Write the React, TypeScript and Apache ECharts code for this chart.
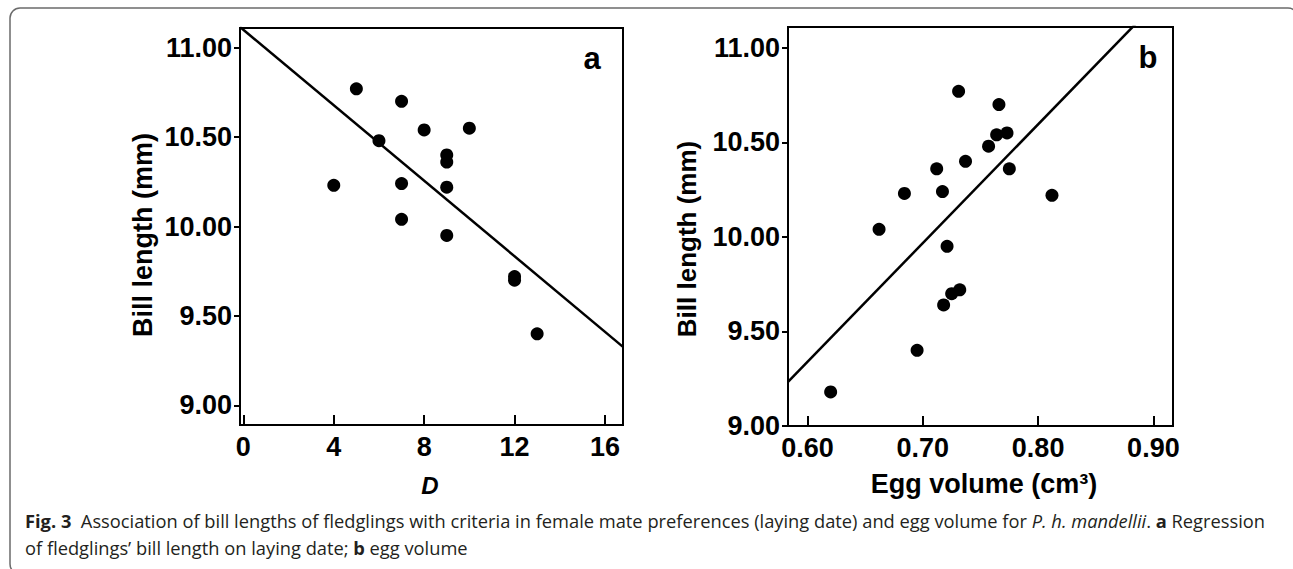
import React, { useEffect, useRef } from "react";
import * as echarts from "echarts";

// Panel a: laying date (D) vs bill length
const layingDate = [4, 5, 6, 7, 7, 7, 8, 9, 9, 9, 9, 10, 12, 12, 13];
const billLengthA = [10.23, 10.77, 10.48, 10.7, 10.24, 10.04, 10.54, 10.4, 10.36, 10.22, 9.95, 10.55, 9.72, 9.7, 9.4];

// Panel b: egg volume vs bill length
const eggVolume = [0.62, 0.662, 0.684, 0.695, 0.712, 0.717, 0.718, 0.721, 0.725, 0.732, 0.731, 0.737, 0.757, 0.764, 0.766, 0.773, 0.775, 0.812];
const billLengthB = [9.18, 10.04, 10.23, 9.4, 10.36, 10.24, 9.64, 9.95, 9.7, 9.72, 10.77, 10.4, 10.48, 10.54, 10.7, 10.55, 10.36, 10.22];

// Regression line end points
const regA_x = [-0.15, 16.8];
const regA_y = [11.116, 9.327];
const regB_x = [0.583, 0.917];
const regB_y = [9.233, 11.33];

// Tick labels
const yTicks = [9.0, 9.5, 10.0, 10.5, 11.0];
const xTicksA = [0, 4, 8, 12, 16];
const xTicksB = [0.6, 0.7, 0.8, 0.9];

const FONT = '"Liberation Sans", Arial, sans-serif';
const CAP_FONT = '"Open Sans", "Noto Sans", sans-serif';
const CAP_SIZE = 18.3;

export default function App() {
  const ref = useRef<HTMLDivElement>(null);

  useEffect(() => {
    if (!ref.current) return;
    const chart = echarts.init(ref.current, undefined, { renderer: "svg" });

    const axisLabelBase = {
      fontSize: 27,
      fontWeight: "bold" as const,
      fontFamily: FONT,
      color: "#000",
      margin: 8,
    };

    const xAxisCommon = (gridIndex: number, min: number, max: number, ticks: number[], digits: number) => ({
      type: "value" as const,
      gridIndex,
      min,
      max,
      axisLine: { show: true, onZero: false, lineStyle: { color: "#000", width: 2 } },
      axisTick: { show: true, inside: true, length: 10, lineStyle: { color: "#000", width: 2 }, customValues: ticks },
      axisLabel: { ...axisLabelBase, customValues: ticks, formatter: (v: number) => v.toFixed(digits) },
      splitLine: { show: false },
    });

    const yAxisCommon = (gridIndex: number, min: number, max: number) => ({
      type: "value" as const,
      gridIndex,
      min,
      max,
      axisLine: { show: true, onZero: false, lineStyle: { color: "#000", width: 2 } },
      axisTick: { show: true, inside: false, length: 6, lineStyle: { color: "#000", width: 2 }, customValues: yTicks },
      axisLabel: { ...axisLabelBase, customValues: yTicks, formatter: (v: number) => v.toFixed(2) },
      splitLine: { show: false },
    });

    const pairs = (xs: number[], ys: number[]) => xs.map((x, i) => [x, ys[i]]);

    const captionRich = {
      b: { fontFamily: CAP_FONT, fontSize: CAP_SIZE, fontWeight: "bold", fill: "#231f20" },
      i: { fontFamily: CAP_FONT, fontSize: CAP_SIZE, fontStyle: "italic", fill: "#231f20" },
      n: { fontFamily: CAP_FONT, fontSize: CAP_SIZE, fill: "#231f20" },
    };

    chart.setOption({
      animation: false,
      backgroundColor: "#fff",
      grid: [
        { left: 240, top: 28, width: 383, height: 397, show: true, borderColor: "#000", borderWidth: 2, backgroundColor: "transparent" },
        { left: 788, top: 27, width: 385, height: 399, show: true, borderColor: "#000", borderWidth: 2, backgroundColor: "transparent" },
      ],
      xAxis: [xAxisCommon(0, -0.15, 16.8, xTicksA, 0), xAxisCommon(1, 0.583, 0.917, xTicksB, 2)],
      yAxis: [yAxisCommon(0, 8.89, 11.11), yAxisCommon(1, 9.0, 11.11)],
      series: [
        {
          type: "scatter",
          xAxisIndex: 0,
          yAxisIndex: 0,
          data: pairs(layingDate, billLengthA),
          symbol: "circle",
          symbolSize: 13,
          itemStyle: { color: "#000", opacity: 1 },
        },
        {
          type: "line",
          xAxisIndex: 0,
          yAxisIndex: 0,
          data: pairs(regA_x, regA_y),
          symbol: "none",
          clip: true,
          lineStyle: { color: "#000", width: 2.5 },
        },
        {
          type: "scatter",
          xAxisIndex: 1,
          yAxisIndex: 1,
          data: pairs(eggVolume, billLengthB),
          symbol: "circle",
          symbolSize: 13,
          itemStyle: { color: "#000", opacity: 1 },
        },
        {
          type: "line",
          xAxisIndex: 1,
          yAxisIndex: 1,
          data: pairs(regB_x, regB_y),
          symbol: "none",
          clip: true,
          lineStyle: { color: "#000", width: 2.5 },
        },
      ],
      graphic: [
        {
          type: "rect",
          shape: { x: 10, y: 8, width: 1288, height: 566, r: 10 },
          style: { fill: "none", stroke: "#6b6b6b", lineWidth: 1.5 },
          silent: true,
        },
        {
          type: "text",
          x: 143,
          y: 235,
          rotation: Math.PI / 2,
          style: { text: "Bill length (mm)", font: `bold 27px ${FONT}`, fill: "#000", textAlign: "center", textVerticalAlign: "middle" },
        },
        {
          type: "text",
          x: 687,
          y: 239,
          rotation: Math.PI / 2,
          style: { text: "Bill length (mm)", font: `bold 26px ${FONT}`, fill: "#000", textAlign: "center", textVerticalAlign: "middle" },
        },
        {
          type: "text",
          x: 430,
          y: 485,
          style: { text: "D", font: `italic bold 24px ${FONT}`, fill: "#000", textAlign: "center", textVerticalAlign: "middle" },
        },
        {
          type: "text",
          x: 984,
          y: 484,
          style: { text: "Egg volume (cm³)", font: `bold 27px ${FONT}`, fill: "#000", textAlign: "center", textVerticalAlign: "middle" },
        },
        {
          type: "text",
          x: 592,
          y: 58,
          style: { text: "a", font: `bold 31px ${FONT}`, fill: "#000", textAlign: "center", textVerticalAlign: "middle" },
        },
        {
          type: "text",
          x: 1148,
          y: 57,
          style: { text: "b", font: `bold 31px ${FONT}`, fill: "#000", textAlign: "center", textVerticalAlign: "middle" },
        },
        {
          type: "text",
          x: 25,
          y: 520,
          style: {
            text:
              "{b|Fig. 3}{n|  Association of bill lengths of fledglings with criteria in female mate preferences (laying date) and egg volume for }{i|P. h. mandellii}{n|. }{b|a}{n| Regression}",
            rich: captionRich,
            textAlign: "left",
            textVerticalAlign: "middle",
          },
        },
        {
          type: "text",
          x: 25,
          y: 547,
          style: {
            text: "{n|of fledglings’ bill length on laying date; }{b|b}{n| egg volume}",
            rich: captionRich,
            textAlign: "left",
            textVerticalAlign: "middle",
          },
        },
      ],
    });

    return () => chart.dispose();
  }, []);

  return (
    <div
      ref={ref}
      style={{ position: "fixed", left: 0, top: 0, width: 1293, height: 569, background: "#fff" }}
    />
  );
}
